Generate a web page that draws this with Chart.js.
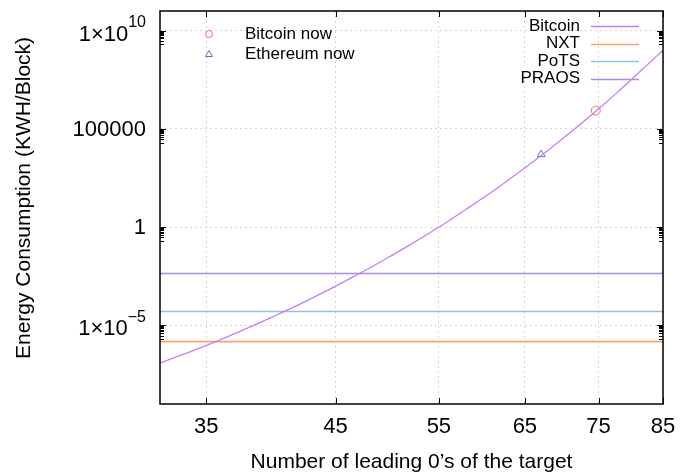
<!DOCTYPE html>
<html>
<head>
<meta charset="utf-8">
<script src="https://cdn.jsdelivr.net/npm/chart.js@4.4.1/dist/chart.umd.min.js"></script>
<style>
html, body { margin: 0; padding: 0; background: #fff; }
#caja { width: 681px; height: 474px; }
</style>
</head>
<body>
<div id="caja"><canvas id="energia"></canvas></div>
<script>
// ceros iniciales del objetivo y consumo de bitcoin (KWH por bloque)
var ceros = [32, 34, 36, 38, 40, 42, 44, 46, 48, 50, 52, 54, 56, 58, 60, 62, 64, 66, 68, 70, 72, 74, 76, 78, 80, 82, 84, 85];
var bitcoin = [1.2e-7, 4.8e-7, 1.9e-6, 7.7e-6, 3.1e-5, 1.2e-4, 4.9e-4, 2.0e-3, 7.9e-3, 3.2e-2, 0.126, 0.50, 2.0, 8.1, 32, 129, 517, 2070, 8260, 33100, 132000, 529000, 2.1e6, 8.5e6, 3.4e7, 1.35e8, 5.2e8, 1.0e9];

// protocolos con consumo constante
var nxt = 1.5e-6;
var pots = 5.1e-5;
var praos = 4.4e-3;

// valores actuales [ceros, consumo]
var bitcoinAhora = [74.6, 8.5e5];
var ethereumAhora = [67.1, 5.0e3];

var ticksX = [35, 45, 55, 65, 75, 85];
var ticksY = [1e-5, 1, 1e5, 1e10];

var FUENTE = '"Liberation Sans", Arial, Helvetica, sans-serif';

function recta(v) {
  return [{x: 32, y: v}, {x: 85, y: v}];
}

var curva = ceros.map(function (c, i) { return {x: c, y: bitcoin[i]}; });

// ejes, etiquetas y leyendas estilo gnuplot
var dibujoEjes = {
  id: 'dibujoEjes',
  afterDraw: function (chart) {
    var ctx = chart.ctx;
    var a = chart.chartArea;
    var sx = chart.scales.x;
    var sy = chart.scales.y;
    ctx.save();

    // marcas de los ejes
    ctx.strokeStyle = '#000';
    ctx.lineWidth = 1;
    ticksX.forEach(function (t) {
      var px = Math.round(sx.getPixelForValue(t)) + 0.5;
      ctx.beginPath();
      ctx.moveTo(px, a.bottom); ctx.lineTo(px, a.bottom - 6);
      ctx.moveTo(px, a.top); ctx.lineTo(px, a.top + 6);
      ctx.stroke();
    });
    ticksY.forEach(function (t) {
      var py = Math.round(sy.getPixelForValue(t)) + 0.5;
      ctx.beginPath();
      ctx.moveTo(a.left, py); ctx.lineTo(a.left + 6, py);
      ctx.moveTo(a.right, py); ctx.lineTo(a.right - 6, py);
      ctx.stroke();
      for (var m = 2; m <= 9; m++) {
        var pm = Math.round(sy.getPixelForValue(t / 10 * m)) + 0.5;
        ctx.beginPath();
        ctx.moveTo(a.left, pm); ctx.lineTo(a.left + 4, pm);
        ctx.moveTo(a.right, pm); ctx.lineTo(a.right - 4, pm);
        ctx.stroke();
      }
    });

    // marco
    ctx.lineWidth = 1.5;
    ctx.strokeRect(a.left, a.top, a.right - a.left, a.bottom - a.top);

    // etiquetas del eje x
    ctx.fillStyle = '#000';
    ctx.font = '22px ' + FUENTE;
    ctx.textAlign = 'center';
    ctx.textBaseline = 'middle';
    ticksX.forEach(function (t) {
      ctx.fillText(String(t), sx.getPixelForValue(t), 427);
    });

    // etiquetas del eje y con exponente
    ticksY.forEach(function (t) {
      var py = sy.getPixelForValue(t);
      var e = Math.round(Math.log10(t));
      var derecha = 146;
      ctx.textAlign = 'right';
      ctx.textBaseline = 'middle';
      if (e >= 0 && e <= 5) {
        ctx.font = '22px ' + FUENTE;
        ctx.fillText(String(t), derecha, py + 1);
      } else {
        var exp = String(e).replace('-', '\u2212');
        ctx.font = '16px ' + FUENTE;
        var we = ctx.measureText(exp).width;
        ctx.fillText(exp, derecha, py - 8);
        ctx.font = '22px ' + FUENTE;
        ctx.fillText('1\u00d710', derecha - we, py + 4);
      }
    });

    // títulos de los ejes
    ctx.font = '21px ' + FUENTE;
    ctx.textAlign = 'center';
    ctx.textBaseline = 'middle';
    ctx.fillText('Number of leading 0\u2019s of the target', (a.left + a.right) / 2, 462);
    ctx.save();
    ctx.translate(24, 198);
    ctx.rotate(-Math.PI / 2);
    ctx.fillText('Energy Consumption (KWH/Block)', 0, 0);
    ctx.restore();

    // leyenda de las series
    var series = [
      ['Bitcoin', chart.data.datasets[0].borderColor],
      ['NXT', chart.data.datasets[1].borderColor],
      ['PoTS', chart.data.datasets[2].borderColor],
      ['PRAOS', chart.data.datasets[3].borderColor]
    ];
    ctx.font = '17px ' + FUENTE;
    ctx.textAlign = 'right';
    series.forEach(function (s, i) {
      var y = 26 + i * 17.6;
      ctx.fillStyle = '#000';
      ctx.fillText(s[0], 580, y);
      ctx.strokeStyle = s[1];
      ctx.lineWidth = 1.5;
      ctx.beginPath();
      ctx.moveTo(591, Math.round(y) + 0.5); ctx.lineTo(639, Math.round(y) + 0.5);
      ctx.stroke();
    });

    // leyenda de los puntos actuales
    ctx.textAlign = 'left';
    ctx.fillStyle = '#000';
    ctx.fillText('Bitcoin now', 245, 34);
    ctx.fillText('Ethereum now', 245, 54);
    ctx.lineWidth = 1;
    ctx.strokeStyle = '#ff6b6b';
    ctx.beginPath();
    ctx.arc(209, 34, 3.5, 0, Math.PI * 2);
    ctx.stroke();
    ctx.strokeStyle = '#6a6ac8';
    ctx.beginPath();
    ctx.moveTo(209, 50.5); ctx.lineTo(212.5, 56.5); ctx.lineTo(205.5, 56.5); ctx.closePath();
    ctx.stroke();

    ctx.restore();
  }
};

var grafico = new Chart(document.getElementById('energia'), {
  type: 'scatter',
  data: {
    datasets: [
      {
        label: 'Bitcoin',
        data: curva,
        showLine: true,
        borderColor: '#c77dfa',
        borderWidth: 1.3,
        pointRadius: 0,
        cubicInterpolationMode: 'monotone'
      },
      {label: 'NXT', data: recta(nxt), showLine: true, borderColor: '#f5a36c', borderWidth: 1.6, pointRadius: 0},
      {label: 'PoTS', data: recta(pots), showLine: true, borderColor: '#8cc6de', borderWidth: 1.6, pointRadius: 0},
      {label: 'PRAOS', data: recta(praos), showLine: true, borderColor: '#a88ae2', borderWidth: 1.6, pointRadius: 0},
      {
        label: 'Bitcoin now',
        data: [{x: bitcoinAhora[0], y: bitcoinAhora[1]}],
        pointStyle: 'circle',
        pointRadius: 4.5,
        pointBorderWidth: 1,
        borderColor: '#ff6b6b',
        backgroundColor: 'rgba(0,0,0,0)'
      },
      {
        label: 'Ethereum now',
        data: [{x: ethereumAhora[0], y: ethereumAhora[1]}],
        pointStyle: 'triangle',
        pointRadius: 4.5,
        pointBorderWidth: 1,
        borderColor: '#6a6ac8',
        backgroundColor: 'rgba(0,0,0,0)'
      }
    ]
  },
  options: {
    responsive: true,
    maintainAspectRatio: false,
    animation: false,
    layout: {padding: {left: 160, right: 18, top: 11, bottom: 70}},
    plugins: {legend: {display: false}, tooltip: {enabled: false}},
    scales: {
      x: {
        type: 'logarithmic',
        min: 32,
        max: 85,
        afterBuildTicks: function (s) { s.ticks = ticksX.map(function (v) { return {value: v}; }); },
        ticks: {display: false},
        grid: {color: '#d4d4d4', lineWidth: 1, drawTicks: false},
        border: {display: false, dash: [2, 3]}
      },
      y: {
        type: 'logarithmic',
        min: 1e-9,
        max: 1e11,
        afterBuildTicks: function (s) { s.ticks = ticksY.map(function (v) { return {value: v}; }); },
        ticks: {display: false},
        grid: {color: '#d4d4d4', lineWidth: 1, drawTicks: false},
        border: {display: false, dash: [2, 3]}
      }
    }
  },
  plugins: [dibujoEjes]
});
</script>
</body>
</html>
